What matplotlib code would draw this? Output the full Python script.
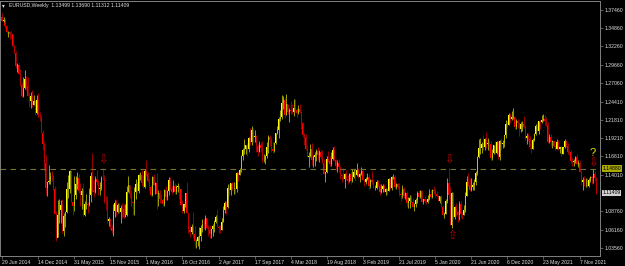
import numpy as np
import matplotlib.pyplot as plt
from matplotlib.transforms import blended_transform_factory

# EURUSD weekly bars, week of 29 Jun 2014 .. week of 23 Jan 2022
first_open = 1.3646

close_px = [
    # 2014
    1.3592, 1.3606, 1.3524, 1.3429, 1.3429, 1.3411, 1.3402, 1.3240, 1.3132, 1.2951, 1.2962, 1.2834, 1.2683, 1.2517,
    1.2630, 1.2760, 1.2669, 1.2526, 1.2454, 1.2526, 1.2388, 1.2452, 1.2284, 1.2464, 1.2226, 1.2225, 1.2001,
    # 2015
    1.1842, 1.1567, 1.1204, 1.1291, 1.1315, 1.1388, 1.1379, 1.1197, 1.0843, 1.0495, 1.0822, 1.0892, 1.0970,
    1.0600, 1.0808, 1.0873, 1.1198, 1.1202, 1.1447, 1.1017, 1.0959, 1.1111, 1.1262, 1.1350, 1.1164, 1.1107,
    1.1163, 1.0830, 1.0982, 1.0985, 1.0968, 1.1105, 1.1385, 1.1183, 1.1147, 1.1338, 1.1295, 1.1196, 1.1211,
    1.1360, 1.1346, 1.1018, 1.1006, 1.0739, 1.0771, 1.0646, 1.0593, 1.0883, 1.0990, 1.0867, 1.0965, 1.0862,
    # 2016
    1.0925, 1.0916, 1.0795, 1.0831, 1.1155, 1.1254, 1.1130, 1.1005, 1.0997, 1.1152, 1.1270, 1.1166, 1.1393,
    1.1400, 1.1285, 1.1223, 1.1453, 1.1403, 1.1307, 1.1224, 1.1115, 1.1367, 1.1254, 1.1276, 1.1118, 1.1137,
    1.1053, 1.1040, 1.0977, 1.1175, 1.1086, 1.1163, 1.1324, 1.1198, 1.1155, 1.1233, 1.1153, 1.1226, 1.1240,
    1.1200, 1.0970, 1.0883, 1.0982, 1.1140, 1.0854, 1.0606, 1.0589, 1.0662, 1.0558, 1.0449, 1.0451, 1.0517,
    # 2017
    1.0530, 1.0645, 1.0703, 1.0697, 1.0782, 1.0642, 1.0616, 1.0560, 1.0622, 1.0673, 1.0733, 1.0797, 1.0652,
    1.0642, 1.0615, 1.0727, 1.0896, 1.0998, 1.0934, 1.1206, 1.1180, 1.1282, 1.1196, 1.1196, 1.1195, 1.1426,
    1.1399, 1.1470, 1.1665, 1.1750, 1.1773, 1.1822, 1.1761, 1.1923, 1.1860, 1.2036, 1.1942, 1.1951, 1.1815,
    1.1730, 1.1822, 1.1785, 1.1605, 1.1607, 1.1665, 1.1794, 1.1935, 1.1896, 1.1770, 1.1744, 1.1858, 1.1996,
    # 2018
    1.2030, 1.2200, 1.2220, 1.2426, 1.2460, 1.2251, 1.2405, 1.2295, 1.2319, 1.2306, 1.2290, 1.2353, 1.2323,
    1.2280, 1.2333, 1.2289, 1.2130, 1.1960, 1.1941, 1.1772, 1.1653, 1.1662, 1.1768, 1.1609, 1.1655, 1.1684,
    1.1744, 1.1686, 1.1720, 1.1656, 1.1569, 1.1410, 1.1438, 1.1622, 1.1600, 1.1551, 1.1623, 1.1747, 1.1605,
    1.1525, 1.1562, 1.1513, 1.1401, 1.1387, 1.1335, 1.1415, 1.1340, 1.1316, 1.1406, 1.1306, 1.1370, 1.1442,
    # 2019
    1.1395, 1.1468, 1.1361, 1.1408, 1.1456, 1.1325, 1.1295, 1.1336, 1.1365, 1.1240, 1.1325, 1.1303, 1.1216,
    1.1216, 1.1300, 1.1246, 1.1150, 1.1201, 1.1235, 1.1158, 1.1203, 1.1170, 1.1333, 1.1208, 1.1368, 1.1370,
    1.1224, 1.1270, 1.1220, 1.1127, 1.1108, 1.1200, 1.1090, 1.1143, 1.0990, 1.1028, 1.1074, 1.1018, 1.0939,
    1.0979, 1.1040, 1.1143, 1.1080, 1.1165, 1.1018, 1.1051, 1.1019, 1.1016, 1.1059, 1.1120, 1.1080, 1.1177,
    # 2020
    1.1166, 1.1120, 1.1093, 1.1026, 1.1093, 1.0945, 1.0830, 1.0846, 1.1026, 1.1284, 1.1107, 1.0690, 1.1141,
    1.0802, 1.0935, 1.0874, 1.0822, 1.0982, 1.0840, 1.0820, 1.0900, 1.1100, 1.1290, 1.1256, 1.1180, 1.1218,
    1.1247, 1.1300, 1.1428, 1.1655, 1.1778, 1.1787, 1.1842, 1.1794, 1.1902, 1.1838, 1.1845, 1.1840, 1.1632,
    1.1715, 1.1825, 1.1716, 1.1860, 1.1646, 1.1875, 1.1834, 1.1856, 1.1964, 1.2121, 1.2112, 1.2256, 1.2188,
    1.2216,
    # 2021
    1.2220, 1.2079, 1.2169, 1.2136, 1.2045, 1.2118, 1.2120, 1.2075, 1.1916, 1.1951, 1.1904, 1.1794, 1.1760,
    1.1900, 1.1980, 1.2097, 1.2020, 1.2163, 1.2144, 1.2180, 1.2192, 1.2167, 1.2106, 1.1860, 1.1935, 1.1865,
    1.1875, 1.1810, 1.1770, 1.1870, 1.1762, 1.1795, 1.1697, 1.1794, 1.1880, 1.1813, 1.1726, 1.1719, 1.1596,
    1.1574, 1.1600, 1.1645, 1.1558, 1.1568, 1.1444, 1.1289, 1.1320, 1.1315, 1.1317, 1.1238, 1.1320, 1.1370,
    # 2022
    1.1360, 1.1410, 1.1350, 1.1141,
]

high_px = [
    # 2014
    1.3700, 1.3650, 1.3620, 1.3530, 1.3445, 1.3445, 1.3445, 1.3408, 1.3252, 1.3158, 1.2990, 1.2996, 1.2902, 1.2705,
    1.2790, 1.2887, 1.2800, 1.2788, 1.2580, 1.2577, 1.2601, 1.2530, 1.2456, 1.2531, 1.2570, 1.2300, 1.2250,
    # 2015
    1.2030, 1.1868, 1.1680, 1.1300, 1.1534, 1.1444, 1.1450, 1.1390, 1.1244, 1.0882, 1.1043, 1.1052, 1.1033,
    1.1053, 1.0848, 1.0890, 1.1290, 1.1391, 1.1467, 1.1445, 1.1030, 1.1380, 1.1386, 1.1436, 1.1410, 1.1278,
    1.1215, 1.1278, 1.1030, 1.1129, 1.1010, 1.1215, 1.1432, 1.1714, 1.1331, 1.1383, 1.1460, 1.1330, 1.1296,
    1.1387, 1.1495, 1.1390, 1.1096, 1.1095, 1.0800, 1.0770, 1.0690, 1.0980, 1.1043, 1.1058, 1.0990, 1.0990,
    # 2016
    1.0970, 1.0990, 1.0986, 1.0985, 1.1246, 1.1376, 1.1260, 1.1180, 1.1020, 1.1218, 1.1342, 1.1297, 1.1410,
    1.1438, 1.1464, 1.1398, 1.1475, 1.1616, 1.1445, 1.1349, 1.1250, 1.1375, 1.1416, 1.1300, 1.1428, 1.1188,
    1.1185, 1.1120, 1.1075, 1.1197, 1.1234, 1.1176, 1.1367, 1.1366, 1.1240, 1.1327, 1.1283, 1.1260, 1.1280,
    1.1245, 1.1200, 1.1039, 1.0985, 1.1145, 1.1300, 1.0870, 1.0687, 1.0700, 1.0874, 1.0670, 1.0488, 1.0520,
    # 2017
    1.0650, 1.0685, 1.0775, 1.0773, 1.0829, 1.0780, 1.0680, 1.0680, 1.0630, 1.0700, 1.0760, 1.0827, 1.0906,
    1.0690, 1.0680, 1.0779, 1.0951, 1.1020, 1.1022, 1.1267, 1.1268, 1.1285, 1.1296, 1.1296, 1.1215, 1.1445,
    1.1440, 1.1490, 1.1683, 1.1777, 1.1910, 1.1829, 1.1850, 1.1940, 1.2070, 1.2092, 1.2060, 1.2034, 1.1960,
    1.1835, 1.1880, 1.1860, 1.1880, 1.1690, 1.1680, 1.1860, 1.1960, 1.1960, 1.1940, 1.1862, 1.1860, 1.2000,
    # 2018
    1.2089, 1.2220, 1.2323, 1.2536, 1.2520, 1.2500, 1.2555, 1.2410, 1.2355, 1.2446, 1.2413, 1.2476, 1.2476,
    1.2345, 1.2396, 1.2414, 1.2290, 1.2150, 1.1996, 1.1973, 1.1830, 1.1720, 1.1840, 1.1852, 1.1675, 1.1720,
    1.1760, 1.1790, 1.1750, 1.1750, 1.1745, 1.1620, 1.1445, 1.1660, 1.1735, 1.1660, 1.1720, 1.1790, 1.1815,
    1.1625, 1.1610, 1.1621, 1.1530, 1.1412, 1.1500, 1.1420, 1.1470, 1.1390, 1.1420, 1.1442, 1.1485, 1.1487,
    # 2019
    1.1497, 1.1570, 1.1500, 1.1420, 1.1514, 1.1470, 1.1340, 1.1370, 1.1420, 1.1407, 1.1340, 1.1448, 1.1325,
    1.1255, 1.1323, 1.1324, 1.1264, 1.1265, 1.1263, 1.1265, 1.1216, 1.1215, 1.1348, 1.1348, 1.1380, 1.1412,
    1.1395, 1.1285, 1.1285, 1.1280, 1.1170, 1.1250, 1.1230, 1.1160, 1.1165, 1.1085, 1.1110, 1.1110, 1.1070,
    1.1000, 1.1065, 1.1172, 1.1180, 1.1175, 1.1175, 1.1060, 1.1097, 1.1050, 1.1117, 1.1200, 1.1175, 1.1190,
    # 2020
    1.1240, 1.1205, 1.1173, 1.1100, 1.1100, 1.1096, 1.0970, 1.0865, 1.1054, 1.1355, 1.1496, 1.1238, 1.1150,
    1.1148, 1.0950, 1.0990, 1.0890, 1.1020, 1.1020, 1.0875, 1.0975, 1.1147, 1.1384, 1.1422, 1.1348, 1.1350,
    1.1303, 1.1345, 1.1452, 1.1660, 1.1909, 1.1916, 1.1870, 1.1966, 1.1925, 1.2011, 1.1917, 1.1900, 1.1873,
    1.1770, 1.1830, 1.1880, 1.1880, 1.1880, 1.1891, 1.1920, 1.1892, 1.1966, 1.2177, 1.2165, 1.2273, 1.2274,
    1.2310,
    # 2021
    1.2349, 1.2230, 1.2190, 1.2189, 1.2150, 1.2150, 1.2169, 1.2243, 1.2113, 1.1990, 1.1990, 1.1945, 1.1888,
    1.1927, 1.1994, 1.2117, 1.2150, 1.2165, 1.2183, 1.2245, 1.2265, 1.2255, 1.2218, 1.2145, 1.1975, 1.1975,
    1.1895, 1.1880, 1.1830, 1.1909, 1.1900, 1.1800, 1.1805, 1.1800, 1.1909, 1.1886, 1.1850, 1.1750, 1.1750,
    1.1640, 1.1624, 1.1670, 1.1692, 1.1616, 1.1608, 1.1464, 1.1374, 1.1383, 1.1355, 1.1360, 1.1360, 1.1385,
    # 2022
    1.1376, 1.1482, 1.1453, 1.1369,
]

low_px = [
    # 2014
    1.3590, 1.3575, 1.3490, 1.3420, 1.3366, 1.3333, 1.3341, 1.3219, 1.3131, 1.2920, 1.2860, 1.2834, 1.2670, 1.2500,
    1.2500, 1.2615, 1.2613, 1.2522, 1.2358, 1.2356, 1.2358, 1.2390, 1.2247, 1.2268, 1.2220, 1.2165, 1.2000,
    # 2015
    1.1754, 1.1460, 1.1114, 1.1098, 1.1270, 1.1270, 1.1316, 1.1176, 1.0838, 1.0462, 1.0516, 1.0710, 1.0712,
    1.0570, 1.0520, 1.0660, 1.0850, 1.1064, 1.1136, 1.1010, 1.0819, 1.0887, 1.1048, 1.1190, 1.1134, 1.0955,
    1.0915, 1.0809, 1.0807, 1.0916, 1.0848, 1.0960, 1.1017, 1.1155, 1.1087, 1.1146, 1.1254, 1.1105, 1.1106,
    1.1184, 1.1322, 1.0990, 1.0896, 1.0706, 1.0674, 1.0630, 1.0566, 1.0524, 1.0800, 1.0805, 1.0850, 1.0850,
    # 2016
    1.0710, 1.0780, 1.0777, 1.0794, 1.0810, 1.1160, 1.1068, 1.0955, 1.0822, 1.0822, 1.1058, 1.1144, 1.1144,
    1.1325, 1.1234, 1.1217, 1.1216, 1.1383, 1.1301, 1.1176, 1.1097, 1.1099, 1.1254, 1.1131, 1.0912, 1.0956,
    1.0998, 1.0998, 1.0952, 1.0951, 1.1046, 1.1046, 1.1110, 1.1175, 1.1121, 1.1150, 1.1120, 1.1122, 1.1150,
    1.1050, 1.0966, 1.0858, 1.0852, 1.0940, 1.0851, 1.0568, 1.0518, 1.0550, 1.0503, 1.0366, 1.0352, 1.0390,
    # 2017
    1.0340, 1.0454, 1.0580, 1.0622, 1.0618, 1.0621, 1.0521, 1.0493, 1.0494, 1.0525, 1.0590, 1.0710, 1.0650,
    1.0568, 1.0570, 1.0606, 1.0720, 1.0850, 1.0839, 1.0930, 1.1109, 1.1110, 1.1180, 1.1131, 1.1120, 1.1160,
    1.1312, 1.1390, 1.1432, 1.1612, 1.1700, 1.1688, 1.1662, 1.1730, 1.1823, 1.1823, 1.1868, 1.1860, 1.1717,
    1.1669, 1.1730, 1.1730, 1.1575, 1.1574, 1.1555, 1.1640, 1.1715, 1.1810, 1.1720, 1.1715, 1.1718, 1.1840,
    # 2018
    1.1982, 1.1916, 1.2165, 1.2200, 1.2335, 1.2206, 1.2250, 1.2260, 1.2154, 1.2271, 1.2260, 1.2240, 1.2290,
    1.2215, 1.2260, 1.2280, 1.2054, 1.1938, 1.1822, 1.1750, 1.1650, 1.1510, 1.1645, 1.1541, 1.1508, 1.1527,
    1.1590, 1.1612, 1.1575, 1.1620, 1.1560, 1.1405, 1.1301, 1.1430, 1.1586, 1.1530, 1.1526, 1.1606, 1.1600,
    1.1460, 1.1432, 1.1432, 1.1335, 1.1300, 1.1330, 1.1216, 1.1325, 1.1267, 1.1290, 1.1268, 1.1300, 1.1353,
    # 2019
    1.1310, 1.1380, 1.1355, 1.1290, 1.1400, 1.1320, 1.1234, 1.1270, 1.1330, 1.1176, 1.1210, 1.1270, 1.1210,
    1.1184, 1.1200, 1.1226, 1.1110, 1.1134, 1.1160, 1.1155, 1.1106, 1.1116, 1.1162, 1.1200, 1.1180, 1.1345,
    1.1208, 1.1200, 1.1200, 1.1101, 1.1027, 1.1069, 1.1066, 1.1050, 1.0960, 1.0926, 1.0927, 1.0990, 1.0935,
    1.0880, 1.0940, 1.0990, 1.1072, 1.1065, 1.1010, 1.0989, 1.1000, 1.0980, 1.1000, 1.1040, 1.1065, 1.1067,
    # 2020
    1.1125, 1.1085, 1.1085, 1.1019, 1.0992, 1.0940, 1.0827, 1.0778, 1.0840, 1.1000, 1.1055, 1.0685, 1.0636,
    1.0770, 1.0768, 1.0812, 1.0727, 1.0755, 1.0782, 1.0774, 1.0820, 1.0870, 1.1095, 1.1240, 1.1168, 1.1167,
    1.1185, 1.1187, 1.1260, 1.1400, 1.1640, 1.1696, 1.1712, 1.1753, 1.1755, 1.1780, 1.1753, 1.1737, 1.1612,
    1.1612, 1.1689, 1.1688, 1.1690, 1.1622, 1.1603, 1.1745, 1.1780, 1.1800, 1.1924, 1.2058, 1.2108, 1.2130,
    1.2175,
    # 2021
    1.2195, 1.2054, 1.2054, 1.2058, 1.1950, 1.2010, 1.2023, 1.2070, 1.1893, 1.1835, 1.1873, 1.1762, 1.1704,
    1.1760, 1.1873, 1.1960, 1.2016, 1.1985, 1.2050, 1.2130, 1.2160, 1.2104, 1.2094, 1.1847, 1.1847, 1.1807,
    1.1780, 1.1790, 1.1751, 1.1760, 1.1758, 1.1705, 1.1664, 1.1692, 1.1780, 1.1800, 1.1700, 1.1680, 1.1563,
    1.1528, 1.1524, 1.1570, 1.1535, 1.1513, 1.1432, 1.1250, 1.1186, 1.1234, 1.1226, 1.1222, 1.1220, 1.1300,
    # 2022
    1.1273, 1.1284, 1.1314, 1.1131,
]

date_labels = ['29 Jun 2014', '14 Dec 2014', '31 May 2015', '15 Nov 2015', '1 May 2016', '16 Oct 2016',
               '2 Apr 2017', '17 Sep 2017', '4 Mar 2018', '19 Aug 2018', '3 Feb 2019', '21 Jul 2019',
               '5 Jan 2020', '21 Jun 2020', '6 Dec 2020', '23 May 2021', '7 Nov 2021']
date_weeks = [0, 24, 48, 72, 96, 120, 144, 168, 192, 216, 240, 264, 288, 312, 336, 360, 384]
price_ticks = [1.37460, 1.34860, 1.32260, 1.29660, 1.27060, 1.24410, 1.21810, 1.19210,
               1.16610, 1.14010, 1.08760, 1.06160, 1.03560]
level_line = 1.14880
last_price = 1.11409
header = 'EURUSD,Weekly  1.13499 1.13690 1.11312 1.11409'

# arrow marks: (week, price)
down_marks = [(67, 1.1602), (297, 1.1602), (393, 1.1567)]
up_marks = [(299, 1.0527)]
question_mark = (393, 1.1709)

close = np.array(close_px)
high = np.array(high_px)
low = np.array(low_px)
opn = np.r_[first_open, close[:-1]]  # weekly bars open at the previous close
x = np.arange(len(close))
up = close >= opn

W, H = 625, 266
plt.rcParams['font.family'] = ['Liberation Sans', 'DejaVu Sans']
fig = plt.figure(figsize=(W / 100, H / 100), dpi=100, facecolor='black')
ax = fig.add_axes([0, 10 / H, 600 / W, 255 / H], facecolor='black')

ax.vlines(x[up], low[up], high[up], color='#b5b500', lw=0.6)
ax.vlines(x[~up], low[~up], high[~up], color='#b00000', lw=0.6)
ax.bar(x[up], (close - opn)[up], bottom=opn[up], width=0.7, color='#ffff00', linewidth=0)
ax.bar(x[~up], (close - opn)[~up], bottom=opn[~up], width=0.7, color='#ff0000', linewidth=0)

ax.axhline(level_line, color='#747430', lw=0.8, dashes=(5, 4))

for wk, p in down_marks:
    ax.text(wk, p, '\u21e9', color='#c00000', fontsize=8.5, ha='center', va='center', family='DejaVu Sans')
for wk, p in up_marks:
    ax.text(wk, p, '\u21e7', color='#c00000', fontsize=8.5, ha='center', va='center', family='DejaVu Sans')
ax.text(question_mark[0], question_mark[1], '?', color='#e6e600', fontsize=8, ha='center', va='center')

ax.set_xlim(-1.33, 397.6)
ax.set_ylim(1.0242, 1.3874)

for s in ax.spines.values():
    s.set_color('#808080')
    s.set_linewidth(0.7)

ax.yaxis.tick_right()
ax.set_yticks(price_ticks)
ax.set_yticklabels(['%.5f' % v for v in price_ticks])
ax.tick_params(axis='y', colors='#808080', labelcolor='#e0e0e0', labelsize=3.7, length=2, width=0.5, pad=1.5)
ax.set_xticks(date_weeks)
ax.set_xticklabels(date_labels, ha='left')
ax.tick_params(axis='x', colors='#808080', labelcolor='#e0e0e0', labelsize=3.7, length=2, width=0.5, pad=1)

tr = blended_transform_factory(ax.transAxes, ax.transData)
ax.text(1.004, level_line, '%.5f' % level_line, transform=tr, fontsize=3.7, color='black', va='center', ha='left',
        bbox=dict(boxstyle='square,pad=0.15', fc='#a8a800', ec='none'))
ax.text(1.004, last_price, '%.5f' % last_price, transform=tr, fontsize=3.7, color='black', va='center', ha='left',
        bbox=dict(boxstyle='square,pad=0.15', fc='#d0d0d0', ec='none'))

fig.text(2 / W, 1 - 6 / H, '\u25be', color='#e0e0e0', fontsize=4, va='center', family='DejaVu Sans')
fig.text(9 / W, 1 - 6 / H, header, color='#e0e0e0', fontsize=3.7, va='center')

fig.savefig('out.png', dpi=100, facecolor='black')
